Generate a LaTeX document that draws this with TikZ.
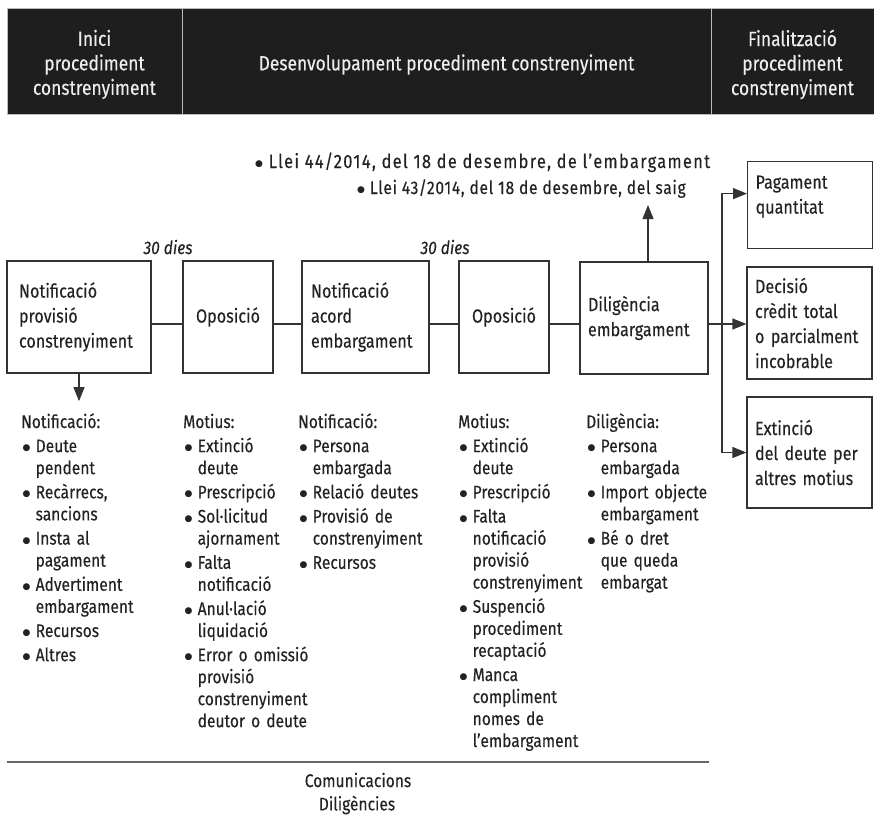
\documentclass[tikz,border=0pt]{standalone}
\usepackage{fontspec}
\setmainfont{Fira Sans}[FakeStretch=0.85, FakeBold=0.25]
\newfontfamily\dotfont{DejaVu Sans}
\usetikzlibrary{arrows.meta}

\definecolor{ink}{HTML}{222222}
\definecolor{edge}{HTML}{333333}
\definecolor{band}{HTML}{1E1E1E}
\definecolor{bandline}{HTML}{BBBBBB}
\definecolor{rulegray}{HTML}{666666}

% round bullet
\newcommand\dotmark{\raisebox{1.6pt}{\dotfont\fontsize{9}{9}\selectfont ●}}
% one bulleted entry of a list, with the following lines hung under the text
\newcommand\listentry[1]{\par\noindent\hangindent=14.5pt\hangafter=1\makebox[14.5pt][l]{\hspace{1.5pt}\dotmark}#1}

\begin{document}
\begin{tikzpicture}[x=1pt,y=-1pt,
  every node/.style={text=ink},
  hcell/.style={rectangle, fill=band, draw=bandline, line width=0.8pt,
    minimum height=106pt, inner sep=0pt},
  htext/.style={text=white!93!black, align=center, font=\fontsize{20.5}{24.5}\selectfont, inner sep=0pt},
  stage/.style={rectangle, draw=edge, line width=1.2pt, align=left,
    font=\fontsize{19}{25}\selectfont, inner ysep=0pt},
  stagec/.style={stage, align=center},
  steplist/.style={anchor=base west, inner sep=0pt, text width=150pt, align=left,
    font=\fontsize{18.3}{22}\selectfont, execute at begin node={\setlength{\parskip}{2.2pt}}},
  delay/.style={font=\fontsize{18.3}{22}\selectfont\itshape, inner sep=0pt},
  lawtext/.style={anchor=base west, inner sep=0pt},
  foot/.style={inner sep=0pt, font=\fontsize{18.3}{22}\selectfont},
  conn/.style={draw=edge, line width=1.2pt},
  arr/.style={conn, -{Triangle[length=14pt,width=11pt]}}
]
\useasboundingbox (0,0) rectangle (874,815);

% header band
\node[hcell, minimum width=175pt] (h1) at (94.5,61) {};
\node[hcell, minimum width=529pt] (h2) at (446.5,61) {};
\node[hcell, minimum width=163pt] (h3) at (792.5,61) {};
\node[htext] (t1) at ([yshift=-3.5pt]h1.center) {Inici\\procediment\\constrenyiment};
\node[htext] (t2) at ([yshift=-3.5pt]h2.center) {Desenvolupament procediment constrenyiment};
\node[htext] (t3) at ([yshift=-3.5pt]h3.center) {Finalització\\procediment\\constrenyiment};

% main sequence of steps
\node[stage, text width=120pt, inner xsep=12pt, minimum height=112pt] (b1) at (79,317)
  {Notificació\\provisió\\constrenyiment};
\node[stagec, text width=72pt, inner xsep=9pt, minimum height=112pt] (b2) at (228,317) {Oposició};
\node[stage, text width=109pt, inner xsep=9pt, minimum height=112pt] (b3) at (365.5,317)
  {Notificació\\acord\\embargament};
\node[stagec, text width=72pt, inner xsep=9pt, minimum height=112pt] (b4) at (504,317) {Oposició};
\node[stage, text width=112pt, inner xsep=8pt, minimum height=112pt] (b5) at (644,318)
  {Diligència\\embargament};

% closing outcomes
\node[stage, anchor=north west, text width=109pt, inner xsep=8pt, text height=27pt, text depth=60pt] (pay) at (747,161)
  {Pagament\\quantitat};
\node[stage, text width=109pt, inner xsep=8pt, minimum height=112pt] (dec) at (809.5,323)
  {Decisió\\crèdit total\\o parcialment\\incobrable};
\node[stage, text width=109pt, inner xsep=8pt, minimum height=111pt] (ext) at (809.5,452.5)
  {Extinció\\del deute per\\altres motius};

% time limits
\node[delay] (d1) at (168,247) {30 dies};
\node[delay] (d2) at (445,247) {30 dies};

% applicable laws
\node[lawtext, font=\fontsize{19.3}{22}\selectfont\addfontfeature{LetterSpace=7}] (law1) at (255,168)
  {\dotmark\ Llei 44/2014, del 18 de desembre, de l’embargament};
\node[lawtext, font=\fontsize{18.3}{22}\selectfont\addfontfeature{LetterSpace=4}] (law2) at (357,194)
  {\dotmark\ Llei 43/2014, del 18 de desembre, del saig};
\coordinate (lawtip) at (648,205);

% connectors between steps, all on one horizontal line
\draw[conn] ([yshift=-7pt]b1.east) -- ([yshift=-7pt]b1.east -| b2.west);
\draw[conn] ([yshift=-7pt]b2.east) -- ([yshift=-7pt]b2.east -| b3.west);
\draw[conn] ([yshift=-7pt]b3.east) -- ([yshift=-7pt]b3.east -| b4.west);
\draw[conn] ([yshift=-7pt]b4.east) -- ([yshift=-7pt]b4.east -| b5.west);
\draw[arr] ([xshift=4pt]b5.north) -- (lawtip);

\coordinate (split) at (722,324);
\draw[conn] (split -| b5.east) -- (split);
\draw[arr] (split) -- (split -| dec.west);
\draw[arr] (split) |- ([yshift=11.5pt]pay.west);
\draw[arr] (split) |- (ext.west);

% contents of each step
\node[steplist] (l1) at (21,428) {Notificació:%
  \listentry{Deute\newline pendent}%
  \listentry{Recàrrecs,\newline sancions}%
  \listentry{Insta al\newline pagament}%
  \listentry{Advertiment\newline embargament}%
  \listentry{Recursos}%
  \listentry{Altres}\par};
\node[steplist] (l2) at (183,428) {Motius:%
  \listentry{Extinció\newline deute}%
  \listentry{Prescripció}%
  \listentry{Sol·licitud\newline ajornament}%
  \listentry{Falta\newline notificació}%
  \listentry{Anul·lació\newline liquidació}%
  \listentry{Error o omissió\newline provisió\newline constrenyiment\newline deutor o deute}\par};
\node[steplist] (l3) at (298,428) {Notificació:%
  \listentry{Persona\newline embargada}%
  \listentry{Relació deutes}%
  \listentry{Provisió de\newline constrenyiment}%
  \listentry{Recursos}\par};
\node[steplist] (l4) at (458,428) {Motius:%
  \listentry{Extinció\newline deute}%
  \listentry{Prescripció}%
  \listentry{Falta\newline notificació\newline provisió\newline constrenyiment}%
  \listentry{Suspenció\newline procediment\newline recaptació}%
  \listentry{Manca\newline compliment\newline nomes de\newline l’embargament}\par};
\node[steplist] (l5) at (586,428) {Diligència:%
  \listentry{Persona\newline embargada}%
  \listentry{Import objecte\newline embargament}%
  \listentry{Bé o dret\newline que queda\newline embargat}\par};

\draw[arr, shorten >=12pt] (b1.south) -- (b1.south |- l1.north);

% footer
\draw[draw=rulegray, line width=2pt] (7,762) -- (709,762);
\node[foot] (f1) at (358,780) {Comunicacions};
\node[foot] (f2) at (357,805) {Diligències};
\end{tikzpicture}
\end{document}
